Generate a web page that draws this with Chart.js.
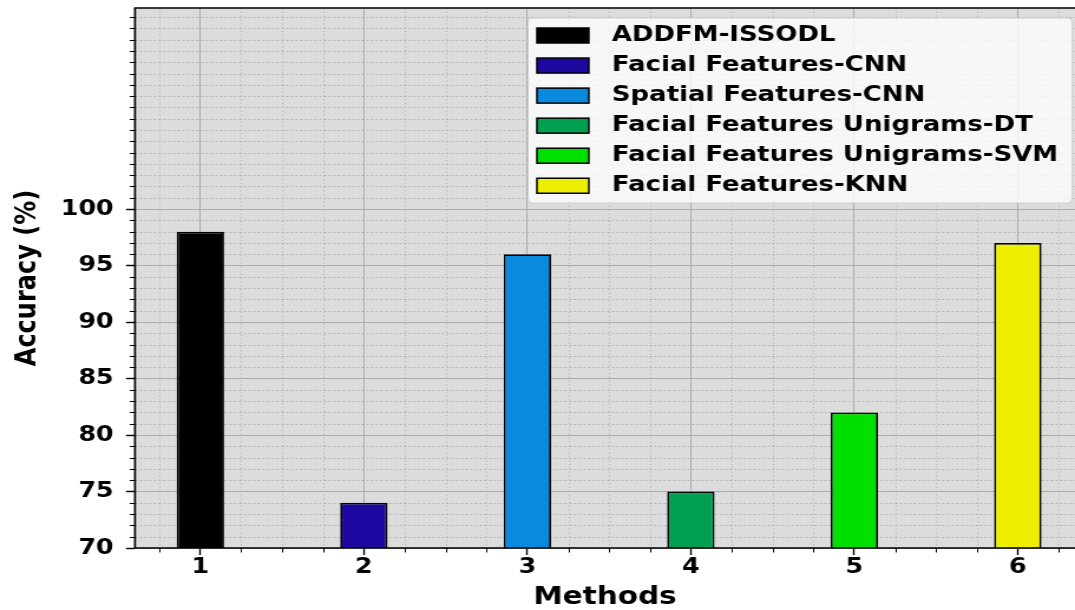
<!DOCTYPE html>
<html>
<head>
<meta charset="utf-8">
<script src="https://cdn.jsdelivr.net/npm/chart.js@4"></script>
<style>
  html, body { margin: 0; padding: 0; background: #ffffff; overflow: hidden; }
  #chart { display: block; }
</style>
</head>
<body>
<canvas id="chart" width="911" height="610" style="width:1075px;height:610px"></canvas>
<script>
// Accuracy of each method (x = method number)
const methods = [1, 2, 3, 4, 5, 6];
const methodNames = [
  'ADDFM-ISSODL',
  'Facial Features-CNN',
  'Spatial Features-CNN',
  'Facial Features Unigrams-DT',
  'Facial Features Unigrams-SVM',
  'Facial Features-KNN'
];
const accuracy = [98, 74, 96, 75, 82, 97];
const barColors = ['#000000', '#1c07a0', '#0a8ade', '#00a050', '#00e000', '#eeee00'];

// Axis setup
const xTicks = [1, 2, 3, 4, 5, 6];
const yTicks = [70, 75, 80, 85, 90, 95, 100];
const xRange = [0.6, 6.35];
const yRange = [70, 117.8];
const xMinorStep = 0.25;
const yMinorStep = 1;

const FONT = '"DejaVu Sans", "Liberation Sans", sans-serif';

// Plot background, minor grid/ticks, frame lines and the legend box
const decorations = {
  id: 'decorations',
  beforeDraw(chart) {
    const { ctx, chartArea: a } = chart;
    ctx.save();
    ctx.fillStyle = '#dcdcdc';
    ctx.fillRect(a.left, a.top, a.right - a.left, a.bottom - a.top);
    ctx.restore();
  },
  beforeDatasetsDraw(chart) {
    const { ctx, chartArea: a, scales } = chart;
    const xs = scales.x, ys = scales.y;
    ctx.save();
    ctx.strokeStyle = '#b0b0b0';
    ctx.lineWidth = 0.9;
    // vertical minor lines
    ctx.setLineDash([1.2, 2.6]);
    for (let v = Math.ceil(xRange[0] / xMinorStep) * xMinorStep; v <= xRange[1] + 1e-9; v += xMinorStep) {
      if (xTicks.some(t => Math.abs(t - v) < 1e-6)) continue;
      const px = Math.round(xs.getPixelForValue(v)) + 0.5;
      ctx.beginPath(); ctx.moveTo(px, a.top); ctx.lineTo(px, a.bottom); ctx.stroke();
    }
    // horizontal minor lines
    ctx.setLineDash([2, 2]);
    for (let v = yRange[0] + yMinorStep; v < yRange[1]; v += yMinorStep) {
      if (yTicks.some(t => Math.abs(t - v) < 1e-6)) continue;
      const py = Math.round(ys.getPixelForValue(v)) + 0.5;
      ctx.beginPath(); ctx.moveTo(a.left, py); ctx.lineTo(a.right, py); ctx.stroke();
    }
    ctx.restore();
  },
  afterDatasetsDraw(chart) {
    const { ctx, chartArea: a, scales } = chart;
    const xs = scales.x, ys = scales.y;
    ctx.save();
    ctx.strokeStyle = '#000000';
    ctx.setLineDash([]);
    // minor tick marks
    ctx.lineWidth = 1;
    for (let v = Math.ceil(xRange[0] / xMinorStep) * xMinorStep; v <= xRange[1] + 1e-9; v += xMinorStep) {
      if (xTicks.some(t => Math.abs(t - v) < 1e-6)) continue;
      const px = Math.round(xs.getPixelForValue(v)) + 0.5;
      ctx.beginPath(); ctx.moveTo(px, a.bottom); ctx.lineTo(px, a.bottom + 4.5); ctx.stroke();
    }
    for (let v = yRange[0] + yMinorStep; v < yRange[1]; v += yMinorStep) {
      if (yTicks.some(t => Math.abs(t - v) < 1e-6)) continue;
      const py = Math.round(ys.getPixelForValue(v)) + 0.5;
      ctx.beginPath(); ctx.moveTo(a.left, py); ctx.lineTo(a.left - 4.5, py); ctx.stroke();
    }
    // frame: left, bottom, top
    ctx.lineWidth = 1.7;
    ctx.beginPath();
    ctx.moveTo(a.right + 2, a.top); ctx.lineTo(a.left, a.top);
    ctx.lineTo(a.left, a.bottom); ctx.lineTo(a.right + 2, a.bottom);
    ctx.stroke();
    ctx.restore();
  },
  afterDraw(chart) {
    const { ctx } = chart;
    const box = { left: 447.5, top: 18, right: 908.5, bottom: 203, r: 4 };
    ctx.save();
    ctx.beginPath();
    ctx.roundRect(box.left, box.top, box.right - box.left, box.bottom - box.top, box.r);
    ctx.fillStyle = 'rgba(252,252,252,0.82)';
    ctx.fill();
    ctx.strokeStyle = '#cfcfcf';
    ctx.lineWidth = 1;
    ctx.stroke();
    ctx.font = 'bold 22px ' + FONT;
    ctx.textBaseline = 'middle';
    ctx.textAlign = 'left';
    methodNames.forEach((name, i) => {
      const cy = 35.5 + i * 30.05;
      ctx.fillStyle = barColors[i];
      ctx.fillRect(455, cy - 7.5, 44, 15);
      ctx.strokeStyle = '#000000';
      ctx.lineWidth = 1.5;
      ctx.strokeRect(455, cy - 7.5, 44, 15);
      ctx.fillStyle = '#000000';
      ctx.fillText(name, 518.5, cy - 0.5);
    });
    ctx.restore();
  }
};

new Chart(document.getElementById('chart'), {
  type: 'bar',
  data: {
    datasets: [{
      label: 'Accuracy',
      data: methods.map((m, i) => ({ x: m, y: accuracy[i] })),
      backgroundColor: barColors,
      borderColor: '#000000',
      borderWidth: 1.8,
      borderSkipped: false,
      barPercentage: 0.29,
      categoryPercentage: 1.0
    }]
  },
  options: {
    responsive: false,
    animation: false,
    devicePixelRatio: 1,
    layout: { padding: { top: 8, right: 0, left: 0, bottom: 0 } },
    plugins: { legend: { display: false }, tooltip: { enabled: false } },
    scales: {
      x: {
        type: 'linear',
        min: xRange[0],
        max: xRange[1],
        offset: false,
        grid: { offset: false, color: '#ababab', lineWidth: 1, drawTicks: true, tickLength: 7, tickColor: '#000000', tickWidth: 1.4 },
        border: { display: false },
        ticks: {
          includeBounds: false, autoSkip: false, maxRotation: 0, padding: 0,
          color: '#000000', font: { family: FONT, size: 21.5, weight: 'bold' },
          callback: v => String(v)
        },
        afterBuildTicks: s => { s.ticks = xTicks.map(v => ({ value: v })); },
        afterFit: s => { s.height = 62; s.paddingLeft = 0; s.paddingRight = 0; },
        title: {
          display: true, text: 'Methods', color: '#000000',
          font: { family: FONT, size: 25, weight: 'bold' },
          padding: { top: 0, bottom: -2 }
        }
      },
      y: {
        type: 'linear',
        min: yRange[0],
        max: yRange[1],
        beginAtZero: false,
        grid: { color: '#ababab', lineWidth: 1, drawTicks: true, tickLength: 7.6, tickColor: '#000000', tickWidth: 1.4 },
        border: { display: false },
        ticks: {
          includeBounds: false, autoSkip: false, padding: 10.5,
          color: '#000000', font: { family: FONT, size: 21.5, weight: 'bold' },
          callback: v => String(v)
        },
        afterBuildTicks: s => { s.ticks = yTicks.map(v => ({ value: v })); },
        afterFit: s => { s.width = 114.4; s.paddingTop = 0; s.paddingBottom = 0; },
        title: {
          display: true, text: 'Accuracy (%)', color: '#000000',
          font: { family: FONT, size: 24, weight: 'bold' },
          padding: { top: 9.5, bottom: 0 }
        }
      }
    }
  },
  plugins: [decorations]
});
</script>
</body>
</html>
